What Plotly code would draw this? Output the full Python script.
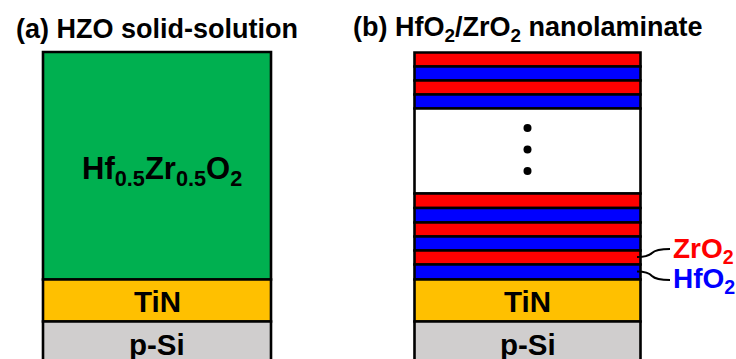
import plotly.graph_objects as go

# ---- data: layer stacks (top -> bottom), in pixel-like units of the schematic ----
panel_a_names = ["Hf<sub>0.5</sub>Zr<sub>0.5</sub>O<sub>2</sub>", "TiN", "p-Si"]
panel_a_colors = ["#00B050", "#FFC000", "#D0CECE"]
panel_a_bounds = [52, 279.5, 321.5, 366]

panel_b_top_names = ["ZrO2", "HfO2", "ZrO2", "HfO2", "gap"]
panel_b_top_colors = ["#FF0000", "#0000FF", "#FF0000", "#0000FF", "#FFFFFF"]
panel_b_top_bounds = [52.5, 66.5, 80.5, 94.5, 108.5, 193.5]
panel_b_bot_names = ["ZrO2", "HfO2", "ZrO2", "HfO2", "ZrO2", "HfO2", "TiN", "p-Si"]
panel_b_bot_colors = ["#FF0000", "#0000FF", "#FF0000", "#0000FF", "#FF0000", "#0000FF", "#FFC000", "#D0CECE"]
panel_b_bot_bounds = [193.5, 208, 222.5, 236.5, 250.5, 264.5, 279.5, 321.5, 366]

panel_a_x = [43, 271]
panel_b_x = [414.5, 640.5]
dots_y = [128, 149.5, 171]

FONT = "Liberation Sans, Arial, sans-serif"

fig = go.Figure()
shapes = []

def add_stack(xr, bounds, colors):
    for i, c in enumerate(colors):
        shapes.append(dict(type="rect", xref="x", yref="y",
                           x0=xr[0], x1=xr[1], y0=bounds[i], y1=bounds[i + 1],
                           fillcolor=c, line=dict(color="black", width=2.6), layer="below"))

add_stack(panel_a_x, panel_a_bounds, panel_a_colors)
add_stack(panel_b_x, panel_b_top_bounds, panel_b_top_colors)
add_stack(panel_b_x, panel_b_bot_bounds, panel_b_bot_colors)

# connectors
shapes.append(dict(type="path", xref="x", yref="y",
                   path="M 637 257 Q 648 257 652 253 Q 656 249 670 249",
                   line=dict(color="black", width=2)))
shapes.append(dict(type="path", xref="x", yref="y",
                   path="M 637 271.5 Q 648 271.5 652 276 Q 656 280 670 280",
                   line=dict(color="black", width=2)))

fig.add_trace(go.Scatter(x=[sum(panel_b_x) / 2] * len(dots_y), y=dots_y, mode="markers",
                         marker=dict(color="black", size=8), hoverinfo="skip", showlegend=False))

annotations = [
    dict(x=157, y=29, text="<b>(a) HZO solid-solution</b>", font=dict(size=27)),
    dict(x=527.5, y=29, text="<b>(b) HfO<sub>2</sub>/ZrO<sub>2</sub> nanolaminate</b>", font=dict(size=27)),
    dict(x=161.5, y=171, text="<b>" + panel_a_names[0] + "</b>", font=dict(size=31)),
    dict(x=157, y=301, text="<b>" + panel_a_names[1] + "</b>", font=dict(size=29.5)),
    dict(x=157, y=344, text="<b>" + panel_a_names[2] + "</b>", font=dict(size=29.5)),
    dict(x=527.5, y=301, text="<b>TiN</b>", font=dict(size=29.5)),
    dict(x=527.5, y=344, text="<b>p-Si</b>", font=dict(size=29.5)),
    dict(x=671, y=250, text="<b>ZrO<sub>2</sub></b>", font=dict(size=28, color="#FF0000"), xanchor="left"),
    dict(x=671, y=280, text="<b>HfO<sub>2</sub></b>", font=dict(size=28, color="#0000FF"), xanchor="left"),
]
for a in annotations:
    a.setdefault("xanchor", "center")
    a.update(xref="x", yref="y", showarrow=False, yanchor="middle")
    a["font"].setdefault("color", "black")
    a["font"]["family"] = FONT

fig.update_layout(
    width=736, height=359, margin=dict(l=0, r=0, t=0, b=0),
    paper_bgcolor="white", plot_bgcolor="white",
    xaxis=dict(range=[0, 736], visible=False, fixedrange=True),
    yaxis=dict(range=[359, 0], visible=False, fixedrange=True),
    shapes=shapes, annotations=annotations, showlegend=False,
)
fig.write_html("out.html", config={"displayModeBar": False},
               post_script="document.body.style.margin='0';document.body.style.overflow='hidden';")
